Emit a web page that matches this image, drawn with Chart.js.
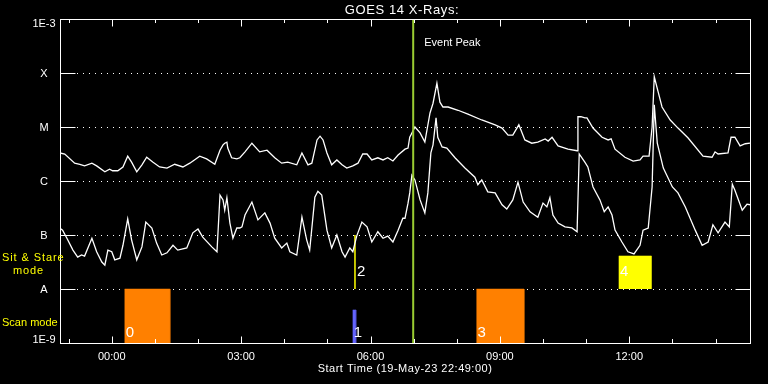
<!DOCTYPE html>
<html><head><meta charset="utf-8">
<script src="https://cdn.jsdelivr.net/npm/chart.js@4.4.1/dist/chart.umd.min.js"></script>
<style>html,body{margin:0;padding:0;background:#000;}canvas{display:block;}</style>
</head><body>
<canvas id="c" width="768" height="384"></canvas>
<script>
// ---- DATA (hours relative to 00:00 on 20-May; flux as log10 W/m^2) ----
const longHours = [-1.21,-1.09,-0.86,-0.74,-0.63,-0.46,-0.35,-0.16,-0.05,0.02,0.14,0.26,0.37,0.46,0.58,0.70,0.81,0.95,1.11,1.28,1.46,1.65,1.81,2.04,2.20,2.39,2.51,2.58,2.62,2.67,2.69,2.78,2.90,2.97,3.09,3.25,3.43,3.60,3.78,3.94,4.08,4.29,4.41,4.55,4.64,4.76,4.83,4.90,4.99,5.10,5.22,5.34,5.45,5.59,5.71,5.82,5.92,6.03,6.17,6.29,6.40,6.52,6.64,6.80,6.87,6.91,6.96,7.03,7.15,7.26,7.38,7.45,7.54,7.61,7.68,7.80,8.03,8.26,8.58,8.89,9.05,9.19,9.30,9.44,9.58,9.74,9.88,10.05,10.12,10.21,10.35,10.58,10.79,10.81,10.88,10.97,11.02,11.16,11.37,11.51,11.58,11.67,11.90,12.09,12.25,12.32,12.46,12.53,12.58,12.67,12.76,12.95,13.13,13.36,13.71,13.92,13.99,14.06,14.29,14.36,14.45,14.57,14.69,14.80];
const longLogFlux = [-5.48,-5.50,-5.67,-5.69,-5.72,-5.67,-5.72,-5.83,-5.78,-5.81,-5.81,-5.74,-5.54,-5.65,-5.83,-5.70,-5.56,-5.65,-5.74,-5.76,-5.69,-5.74,-5.67,-5.54,-5.59,-5.69,-5.43,-5.33,-5.30,-5.28,-5.39,-5.57,-5.59,-5.57,-5.46,-5.30,-5.46,-5.43,-5.57,-5.67,-5.65,-5.70,-5.48,-5.70,-5.67,-5.24,-5.17,-5.24,-5.48,-5.70,-5.61,-5.70,-5.76,-5.72,-5.67,-5.50,-5.50,-5.61,-5.57,-5.61,-5.57,-5.63,-5.52,-5.41,-5.39,-5.19,-5.11,-5.00,-5.11,-5.28,-4.74,-4.56,-4.19,-4.54,-4.63,-4.63,-4.69,-4.76,-4.87,-4.96,-5.02,-5.15,-5.15,-4.96,-5.24,-5.30,-5.28,-5.22,-5.26,-5.19,-5.35,-5.41,-5.44,-4.81,-4.81,-4.83,-4.83,-5.02,-5.19,-5.24,-5.22,-5.41,-5.56,-5.63,-5.61,-5.54,-5.54,-5.00,-4.07,-4.35,-4.63,-4.87,-5.02,-5.20,-5.54,-5.56,-5.46,-5.50,-5.48,-5.19,-5.19,-5.35,-5.31,-5.30];
const shortHours = [-1.21,-1.14,-1.04,-0.90,-0.79,-0.70,-0.63,-0.46,-0.35,-0.23,-0.16,-0.09,0.00,0.07,0.19,0.26,0.37,0.46,0.58,0.70,0.79,0.93,1.04,1.16,1.28,1.42,1.53,1.74,1.88,2.00,2.11,2.32,2.44,2.51,2.58,2.62,2.67,2.74,2.81,2.90,2.97,3.02,3.09,3.25,3.39,3.55,3.67,3.78,3.94,4.06,4.13,4.29,4.41,4.52,4.59,4.71,4.78,4.87,4.99,5.10,5.22,5.34,5.41,5.52,5.59,5.68,5.80,5.92,6.03,6.17,6.29,6.40,6.52,6.64,6.75,6.80,6.87,6.91,6.96,7.03,7.15,7.26,7.33,7.40,7.45,7.52,7.56,7.66,7.77,7.96,8.19,8.42,8.49,8.58,8.72,8.89,9.05,9.16,9.30,9.42,9.54,9.70,9.88,10.00,10.09,10.16,10.23,10.35,10.51,10.67,10.79,10.84,10.97,11.04,11.16,11.32,11.42,11.51,11.60,11.67,11.83,11.97,12.11,12.25,12.32,12.44,12.53,12.58,12.65,12.79,13.00,13.13,13.30,13.53,13.69,13.83,13.94,14.06,14.22,14.32,14.39,14.45,14.62,14.73,14.80];
const shortLogFlux = [-6.87,-6.91,-7.06,-7.28,-7.41,-7.37,-7.39,-7.06,-7.31,-7.50,-7.56,-7.28,-7.31,-7.46,-7.43,-7.19,-6.70,-7.09,-7.46,-7.22,-6.76,-6.87,-7.15,-7.37,-7.33,-7.19,-7.28,-7.24,-6.96,-6.89,-7.04,-7.22,-7.31,-6.26,-6.35,-6.54,-6.31,-6.78,-7.06,-6.87,-6.87,-6.85,-6.63,-6.39,-6.72,-6.59,-6.78,-7.06,-7.24,-7.15,-7.31,-7.37,-6.67,-7.09,-7.28,-6.30,-6.19,-6.26,-6.91,-7.24,-7.00,-7.31,-7.41,-7.24,-7.31,-7.02,-6.76,-6.85,-7.13,-6.94,-7.06,-7.02,-7.13,-6.91,-6.69,-6.69,-6.41,-6.22,-5.89,-5.98,-6.35,-6.59,-6.22,-5.48,-5.33,-4.83,-5.19,-5.37,-5.39,-5.57,-5.76,-5.93,-6.07,-5.98,-6.20,-6.22,-6.44,-6.52,-6.35,-6.02,-6.39,-6.57,-6.67,-6.41,-6.48,-6.31,-6.63,-6.78,-6.85,-6.87,-6.94,-5.50,-5.65,-5.74,-6.11,-6.35,-6.57,-6.48,-6.63,-6.91,-7.13,-7.31,-7.35,-7.19,-6.91,-6.87,-6.11,-4.59,-5.30,-5.76,-6.11,-6.22,-6.48,-6.91,-7.19,-7.13,-6.81,-6.96,-6.76,-6.85,-6.06,-6.17,-6.54,-6.43,-6.44];

const xTickHours = [0, 3, 6, 9, 12];
const xTickLabels = ['00:00', '03:00', '06:00', '09:00', '12:00'];
const yTickValues = [1e-9, 1e-8, 1e-7, 1e-6, 1e-5, 1e-4, 1e-3];
const yTickLabels = ['1E-9', 'A', 'B', 'C', 'M', 'X', '1E-3'];

// observation blocks: label, start hour, end hour, base flux, top flux
const blockLabels = ['0', '1', '2', '3', '4'];
const blockStart  = [0.30, 5.59, 5.64, 8.46, 11.76];
const blockEnd    = [1.35, 5.66, 5.64, 9.56, 12.51];
const blockBase   = [1e-9, 1e-9, 1e-8, 1e-9, 1e-8];
const blockTop    = [1e-8, 4.1e-9, 1e-7, 1e-8, 4.1e-8];
const blockMode   = ['scan', 'scanB', 'sit', 'scan', 'sit'];

const eventPeakHour = 6.99;
const titleText = 'GOES 14 X-Rays:';
const xTitleText = 'Start Time (19-May-23 22:49:00)';

// ---- STYLES ----
const modeColor = { scan: '#ff8000', scanB: '#6464ff', sit: '#ffff00' };
const FONT = '"Liberation Sans", Arial, sans-serif';

const toPts = (hs, ls) => hs.map((h, i) => ({ x: h, y: Math.pow(10, ls[i]) }));

const datasets = [];
datasets.push({
  data: [{ x: eventPeakHour, y: 1e-9 }, { x: eventPeakHour, y: 1e-3 }],
  borderColor: 'rgb(154,205,50)', borderWidth: 2, pointRadius: 0, fill: false
});
datasets.push({ data: toPts(longHours, longLogFlux), borderColor: '#fff', borderWidth: 1.3, pointRadius: 0, tension: 0, fill: false });
datasets.push({ data: toPts(shortHours, shortLogFlux), borderColor: '#fff', borderWidth: 1.3, pointRadius: 0, tension: 0, fill: false });
blockLabels.forEach((lab, i) => {
  const c = modeColor[blockMode[i]];
  datasets.push({
    data: [
      { x: blockStart[i], y: blockBase[i] }, { x: blockStart[i], y: blockTop[i] },
      { x: blockEnd[i], y: blockTop[i] }, { x: blockEnd[i], y: blockBase[i] }
    ],
    borderColor: c, backgroundColor: c, borderWidth: blockStart[i] === blockEnd[i] ? 1.5 : 0.5,
    pointRadius: 0, tension: 0,
    fill: { value: blockBase[i] }
  });
});

function hline(ctx, x1, x2, y) { ctx.beginPath(); ctx.moveTo(x1, y); ctx.lineTo(x2, y); ctx.stroke(); }
function vline(ctx, x, y1, y2) { ctx.beginPath(); ctx.moveTo(x, y1); ctx.lineTo(x, y2); ctx.stroke(); }

const decor = {
  id: 'decor',
  beforeDatasetsDraw(chart) {
    const { ctx, chartArea: a, scales: { y } } = chart;
    ctx.save();
    ctx.strokeStyle = '#fff'; ctx.lineWidth = 1;
    ctx.setLineDash([1, 5]);
    yTickValues.forEach(v => {
      if (v <= y.min || v >= y.max) return;
      const py = Math.round(y.getPixelForValue(v)) + 0.5;
      hline(ctx, a.left + 17, a.right - 15, py);
    });
    ctx.restore();
  },
  afterDatasetsDraw(chart) {
    const { ctx, chartArea: a, scales: { x, y } } = chart;
    ctx.save();
    ctx.strokeStyle = '#fff'; ctx.lineWidth = 1; ctx.setLineDash([]);
    const L = a.left + 0.5, R = a.right + 0.5, T = a.top + 0.5, B = a.bottom + 0.5;
    ctx.strokeRect(L, T, R - L, B - T);
    yTickValues.forEach(v => {
      if (v <= y.min || v >= y.max) return;
      const py = Math.round(y.getPixelForValue(v)) + 0.5;
      hline(ctx, L, L + 15, py);
      hline(ctx, R - 15, R, py);
    });
    for (let h = Math.ceil(x.min); h <= Math.floor(x.max); h++) {
      const px = Math.round(x.getPixelForValue(h)) + 0.5;
      const major = ((h % 3) + 3) % 3 === 0;
      vline(ctx, px, T, T + (major ? 7 : 3.5));
      vline(ctx, px, B, B - (major ? 7 : 4.5));
    }
    ctx.fillStyle = '#fff';
    ctx.textBaseline = 'middle';
    ctx.font = '11px ' + FONT;
    ctx.textAlign = 'center';
    yTickValues.forEach((v, i) => {
      let py = y.getPixelForValue(v);
      if (v === y.max) py += 4.5; else if (v === y.min) py -= 3.5; else py += 0.5;
      ctx.fillText(yTickLabels[i], a.left - 16, py);
    });
    xTickHours.forEach((h, i) => ctx.fillText(xTickLabels[i], x.getPixelForValue(h), a.bottom + 13.5));
    ctx.letterSpacing = '0.5px';
    ctx.fillText(xTitleText, (a.left + a.right) / 2, a.bottom + 26);
    ctx.font = '13px ' + FONT;
    ctx.letterSpacing = '0.6px';
    ctx.fillText(titleText, (a.left + a.right) / 2 - 3, 10);
    ctx.letterSpacing = '0px';
    ctx.textAlign = 'left';
    ctx.font = '11px ' + FONT;
    ctx.fillText('Event Peak', x.getPixelForValue(eventPeakHour) + 11, a.top + 24);
    ctx.font = '15px ' + FONT;
    blockLabels.forEach((lab, i) => {
      const px = x.getPixelForValue(blockStart[i]) + (blockMode[i] === 'sit' && blockStart[i] === blockEnd[i] ? 2 : 1);
      const py = blockMode[i] === 'sit' ? y.getPixelForValue(1e-8) - 17 : a.bottom - 10;
      ctx.fillText(lab, px, py);
    });
    ctx.fillStyle = '#ffff00';
    ctx.font = '11px ' + FONT;
    ctx.letterSpacing = '0.9px';
    ctx.fillText('Sit & Stare', 2, y.getPixelForValue(1e-8) - 31);
    ctx.fillText('mode', 13, y.getPixelForValue(1e-8) - 18);
    ctx.letterSpacing = '0px';
    ctx.fillText('Scan mode', 2, a.bottom - 20);
    ctx.restore();
  }
};

new Chart(document.getElementById('c'), {
  type: 'line',
  data: { datasets },
  options: {
    responsive: false, animation: false, devicePixelRatio: 1,
    layout: { padding: { left: 60, top: 19, right: 18, bottom: 41 } },
    scales: {
      x: { type: 'linear', min: -1.2, max: 14.8, display: false },
      y: { type: 'logarithmic', min: 1e-9, max: 1e-3, display: false }
    },
    plugins: { legend: { display: false }, tooltip: { enabled: false }, title: { display: false } }
  },
  plugins: [decor]
});
</script>
</body></html>
